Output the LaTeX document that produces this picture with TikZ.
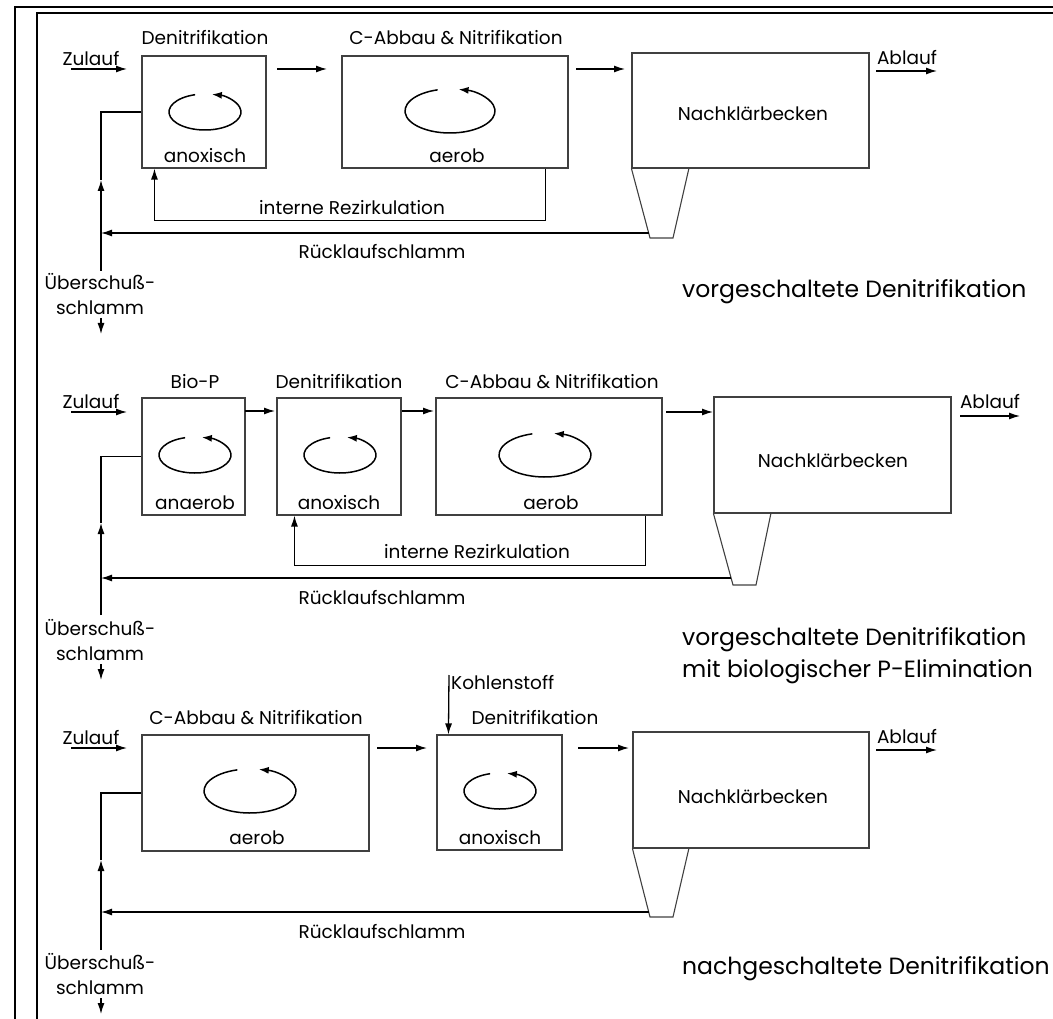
\documentclass[tikz,border=0pt]{standalone}
\usepackage{fontspec}
\setmainfont{Poppins}
\usetikzlibrary{arrows.meta,positioning,calc}

\begin{document}
\begin{tikzpicture}[x=1pt,y=-1pt,
  basin/.style={draw=black!75,line width=1.1pt,inner sep=0pt},
  lbl/.style={font=\fontsize{18.5}{25}\selectfont,inner sep=0pt},
  varlbl/.style={font=\fontsize{23.5}{32}\selectfont,inner sep=0pt,anchor=west,align=left},
  pipe/.style={line width=1.3pt},
  flow/.style={line width=1.3pt,-{Latex[length=11pt,width=7pt]}},
  stir/.style={line width=1.5pt,-{Latex[length=10pt,width=7pt]}}]
\useasboundingbox (0,0) rectangle (1053,1019);
% Rahmen
\draw[line width=1.5pt] (15,1019) -- (15,7) -- (1053,7);
\draw[line width=1.5pt] (37,1019) -- (37,13) -- (1053,13);

% ---- vorgeschaltete Denitrifikation
\node[basin,minimum width=124pt,minimum height=112pt] (d1) at (204,112) {};
\node[basin,minimum width=226pt,minimum height=112pt] (c1) at (455,112) {};
\node[basin,minimum width=237pt,minimum height=115pt] (n1) at (750.5,110.5) {};
\node[lbl] (d1t) at (205,38) {Denitrifikation};
\node[lbl] (c1t) at (456,38) {C-Abbau \& Nitrifikation};
\node[lbl] (d1u) at (205,156) {anoxisch};
\node[lbl] (c1u) at (457,156) {aerob};
\node[lbl] (n1m) at (753,114) {Nachklärbecken};
\draw[stir] (205,112) ++(254:36 and 18) arc[start angle=254,end angle=-79,x radius=36,y radius=18];
\draw[stir] (450,111) ++(254:45 and 22) arc[start angle=254,end angle=-79,x radius=45,y radius=22];
\draw[basin] (n1.south west) -- (650,238) -- (673,238) -- (689,168);
\coordinate (k1) at (648.7,233);
\coordinate (u1) at (101,271);
\coordinate (m1) at (101,180);
\node[lbl] (zu1) at (91,59) {Zulauf};
\draw[flow] (71,69) -- (127,69);
\draw[flow] (277,69) -- (327,69);
\draw[flow] (576,69) -- (625,69);
\node[lbl] (ab1) at (907,58) {Ablauf};
\draw[flow] (876,71) -- (937,71);
\draw[flow] ([xshift=-23pt]c1.south east) -- ++(0,52) -| ([xshift=13pt]d1.south west);
\node[lbl] (ir1) at (352,208) {interne Rezirkulation};
\draw[flow] (k1) -- (k1 -| u1);
\node[lbl] (rs1) at (382,252) {Rücklaufschlamm};
\draw[flow] (u1) -- (m1);
\draw[pipe] (m1) -- (u1 |- d1.west) -- (d1.west);
\node[lbl,align=center] (x1) at (100,294) {Überschuß-\\schlamm};
\draw[flow] (101,318) -- (101,334);
\node[varlbl] (t1) at (682,292) {vorgeschaltete Denitrifikation};

% ---- mit biologischer P-Elimination
\node[basin,minimum width=103pt,minimum height=117pt] (b2) at (193.5,456.5) {};
\node[basin,minimum width=124pt,minimum height=117pt] (d2) at (339,456.5) {};
\node[basin,minimum width=226pt,minimum height=117pt] (c2) at (549,456.5) {};
\node[basin,minimum width=237pt,minimum height=116pt] (n2) at (832.5,455) {};
\node[lbl] (b2t) at (195,382) {Bio-P};
\node[lbl] (d2t) at (339,382) {Denitrifikation};
\node[lbl] (c2t) at (552,382) {C-Abbau \& Nitrifikation};
\node[lbl] (b2u) at (195,503) {anaerob};
\node[lbl] (d2u) at (339,503) {anoxisch};
\node[lbl] (c2u) at (551,503) {aerob};
\node[lbl] (n2m) at (833,461) {Nachklärbecken};
\draw[stir] (195,455) ++(254:36 and 18) arc[start angle=254,end angle=-79,x radius=36,y radius=18];
\draw[stir] (340,455) ++(254:36 and 18) arc[start angle=254,end angle=-79,x radius=36,y radius=18];
\draw[stir] (545,455) ++(254:46 and 22) arc[start angle=254,end angle=-79,x radius=46,y radius=22];
\draw[basin] (n2.south west) -- (733,585) -- (756,585) -- (771,513);
\coordinate (k2) at (731,578);
\coordinate (u2) at (101,615);
\coordinate (m2) at (101,523);
\node[lbl] (zu2) at (91,402) {Zulauf};
\draw[flow] (71,412) -- (127,412);
\draw[flow] (245,411) -- (275,411);
\draw[flow] (402,411) -- (434,411);
\draw[flow] (666,412) -- (713,412);
\node[lbl] (ab2) at (990,402) {Ablauf};
\draw[flow] (960,416) -- (1020,416);
\draw[flow] ([xshift=-17pt]c2.south east) -- ++(0,50) -| ([xshift=18pt]d2.south west);
\node[lbl] (ir2) at (477,552) {interne Rezirkulation};
\draw[flow] (k2) -- (k2 -| u2);
\node[lbl] (rs2) at (382,598) {Rücklaufschlamm};
\draw[flow] (u2) -- (m2);
\draw[pipe] (m2) -- (u2 |- b2.west) -- (b2.west);
\node[lbl,align=center] (x2) at (100,640) {Überschuß-\\schlamm};
\draw[flow] (101,664) -- (101,680);
\node[varlbl] (t2) at (682,656) {vorgeschaltete Denitrifikation\\mit biologischer P-Elimination};

% ---- nachgeschaltete Denitrifikation
\node[basin,minimum width=227pt,minimum height=116pt] (c3) at (255.5,793) {};
\node[basin,minimum width=125pt,minimum height=115pt] (d3) at (499.5,792.5) {};
\node[basin,minimum width=236pt,minimum height=116pt] (n3) at (751,790) {};
\node[lbl] (c3t) at (256,718) {C-Abbau \& Nitrifikation};
\node[lbl] (d3t) at (535,718) {Denitrifikation};
\node[lbl,anchor=west] (ks3) at (451,683) {Kohlenstoff};
\node[lbl] (c3u) at (257,838) {aerob};
\node[lbl] (d3u) at (500,838) {anoxisch};
\node[lbl] (n3m) at (753,797) {Nachklärbecken};
\draw[stir] (250,791) ++(254:46 and 22) arc[start angle=254,end angle=-79,x radius=46,y radius=22];
\draw[stir] (500,791) ++(254:36 and 18) arc[start angle=254,end angle=-79,x radius=36,y radius=18];
\draw[basin] (n3.south west) -- (650,917) -- (673,917) -- (689,848);
\coordinate (k3) at (649,912);
\coordinate (u3) at (101,950);
\coordinate (m3) at (101,860);
\draw[flow] (449,675) -- ([xshift=12pt]d3.north west);
\node[lbl] (zu3) at (91,738) {Zulauf};
\draw[flow] (71,748) -- (127,748);
\draw[flow] (377,748) -- (427,748);
\draw[flow] (578,748) -- (629,748);
\node[lbl] (ab3) at (907,737) {Ablauf};
\draw[flow] (876,750) -- (937,750);
\draw[flow] (k3) -- (k3 -| u3);
\node[lbl] (rs3) at (382,932) {Rücklaufschlamm};
\draw[flow] (u3) -- (m3);
\draw[pipe] (m3) -- (u3 |- c3.west) -- (c3.west);
\node[lbl,align=center] (x3) at (100,974) {Überschuß-\\schlamm};
\draw[flow] (101,998) -- (101,1014);
\node[varlbl] (t3) at (682,969) {nachgeschaltete Denitrifikation};
\end{tikzpicture}
\end{document}
